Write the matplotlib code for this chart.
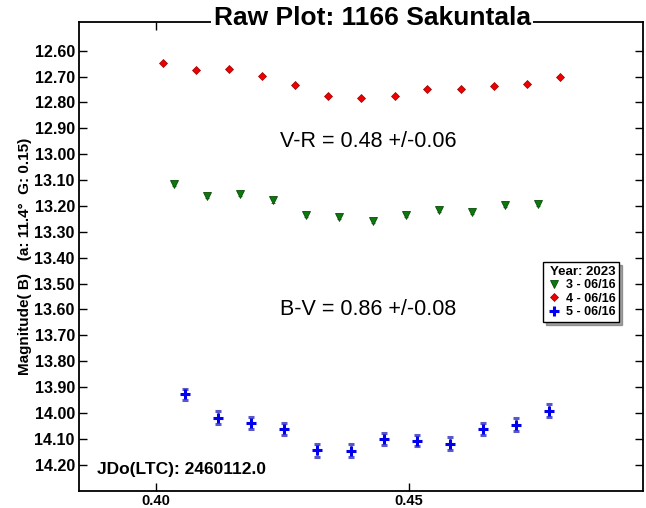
import matplotlib
matplotlib.use('Agg')
import matplotlib.pyplot as plt
from matplotlib.ticker import FixedLocator, FormatStrFormatter

plt.rcParams['font.family'] = ['Liberation Sans', 'DejaVu Sans']

# series 4 - 06/16 (red diamonds)
jd_4 = [0.4014, 0.4080, 0.4145, 0.4210, 0.4275, 0.4340, 0.4405,
        0.4472, 0.4535, 0.4602, 0.4667, 0.4732, 0.4797]
mag_4 = [12.648, 12.673, 12.671, 12.699, 12.734, 12.776, 12.782,
         12.776, 12.747, 12.747, 12.737, 12.728, 12.702]

# series 3 - 06/16 (green triangles)
jd_3 = [0.4036, 0.4101, 0.4166, 0.4231, 0.4296, 0.4361, 0.4428,
        0.4494, 0.4559, 0.4624, 0.4689, 0.4754]
mag_3 = [13.114, 13.163, 13.153, 13.179, 13.234, 13.243, 13.259,
         13.234, 13.215, 13.224, 13.197, 13.193]
err_3 = [0.008] * 12

# series 5 - 06/16 (blue crosses)
jd_5 = [0.4058, 0.4123, 0.4188, 0.4253, 0.4319, 0.4385, 0.4451,
        0.4515, 0.4581, 0.4645, 0.4711, 0.4776]
mag_5 = [13.928, 14.018, 14.039, 14.063, 14.145, 14.147, 14.101,
         14.107, 14.119, 14.063, 14.045, 13.991]
err_5 = [0.022, 0.024, 0.022, 0.024, 0.024, 0.025, 0.023,
         0.023, 0.024, 0.023, 0.025, 0.024]

y_ticks = [12.6 + 0.1 * i for i in range(17)]
x_ticks = [0.40, 0.45]

fig = plt.figure(figsize=(6.46, 5.08), dpi=100)
ax = fig.add_axes([0.1223, 0.0335, 0.8731, 0.9232])

h3 = ax.errorbar(jd_3, mag_3, yerr=err_3, fmt='v', color='#0a7a0a',
                 mec='#0a4a0a', mew=0.6, ms=6, ecolor='#2a6a2a',
                 elinewidth=1, capsize=1.5, zorder=3)
h4, = ax.plot(jd_4, mag_4, 'D', color='#ee0000', mec='#990000', mew=0.5,
              ms=4.5, zorder=3)
h5 = ax.errorbar(jd_5, mag_5, yerr=err_5, fmt='+', color='#0000ee', ms=7.5,
                 mew=2.2, ecolor='#5858c8', elinewidth=1, capsize=2.5,
                 capthick=1, zorder=3)

ax.set_xlim(0.3849, 0.4961)
ax.set_ylim(14.302, 12.489)
ax.xaxis.set_major_locator(FixedLocator(x_ticks))
ax.yaxis.set_major_locator(FixedLocator(y_ticks))
ax.xaxis.set_major_formatter(FormatStrFormatter('%.2f'))
ax.yaxis.set_major_formatter(FormatStrFormatter('%.2f'))
ax.tick_params(direction='in', top=True, right=True, length=6, width=1,
               labelsize=11.5, pad=3)
ax.tick_params(axis='x', labelsize=10.5, pad=2)
for lab in ax.get_xticklabels() + ax.get_yticklabels():
    lab.set_fontweight('bold')
for sp in ax.spines.values():
    sp.set_linewidth(1.3)

ax.set_ylabel('Magnitude( B)   (a: 11.4°  G: 0.15)', fontsize=11,
              fontweight='bold', labelpad=2)

ax.text(0.356, 0.746, 'V-R = 0.48 +/-0.06', transform=ax.transAxes,
        fontsize=15.5, va='center', ha='left')
ax.text(0.356, 0.386, 'B-V = 0.86 +/-0.08', transform=ax.transAxes,
        fontsize=15.5, va='center', ha='left')
ax.text(0.032, 0.045, 'JDo(LTC): 2460112.0', transform=ax.transAxes,
        fontsize=12.5, fontweight='bold', va='center', ha='left')

fig.text(0.576, 0.9646, 'Raw Plot: 1166 Sakuntala', fontsize=19,
         fontweight='bold', ha='center', va='center',
         bbox=dict(facecolor='white', edgecolor='none', pad=2))

leg = ax.legend([h3[0], h4, h5[0]], ['3 - 06/16', '4 - 06/16', '5 - 06/16'],
                loc='upper left', bbox_to_anchor=(0.823, 0.488),
                borderaxespad=0, title='Year: 2023', fancybox=False,
                shadow=True, framealpha=1, edgecolor='black',
                prop={'weight': 'bold', 'size': 9}, handlelength=1.2,
                handletextpad=0.3, borderpad=0.3, labelspacing=0.12,
                alignment='right')
leg.get_title().set_fontweight('bold')
leg.get_title().set_fontsize(9.5)

fig.savefig('out.png', dpi=100)
